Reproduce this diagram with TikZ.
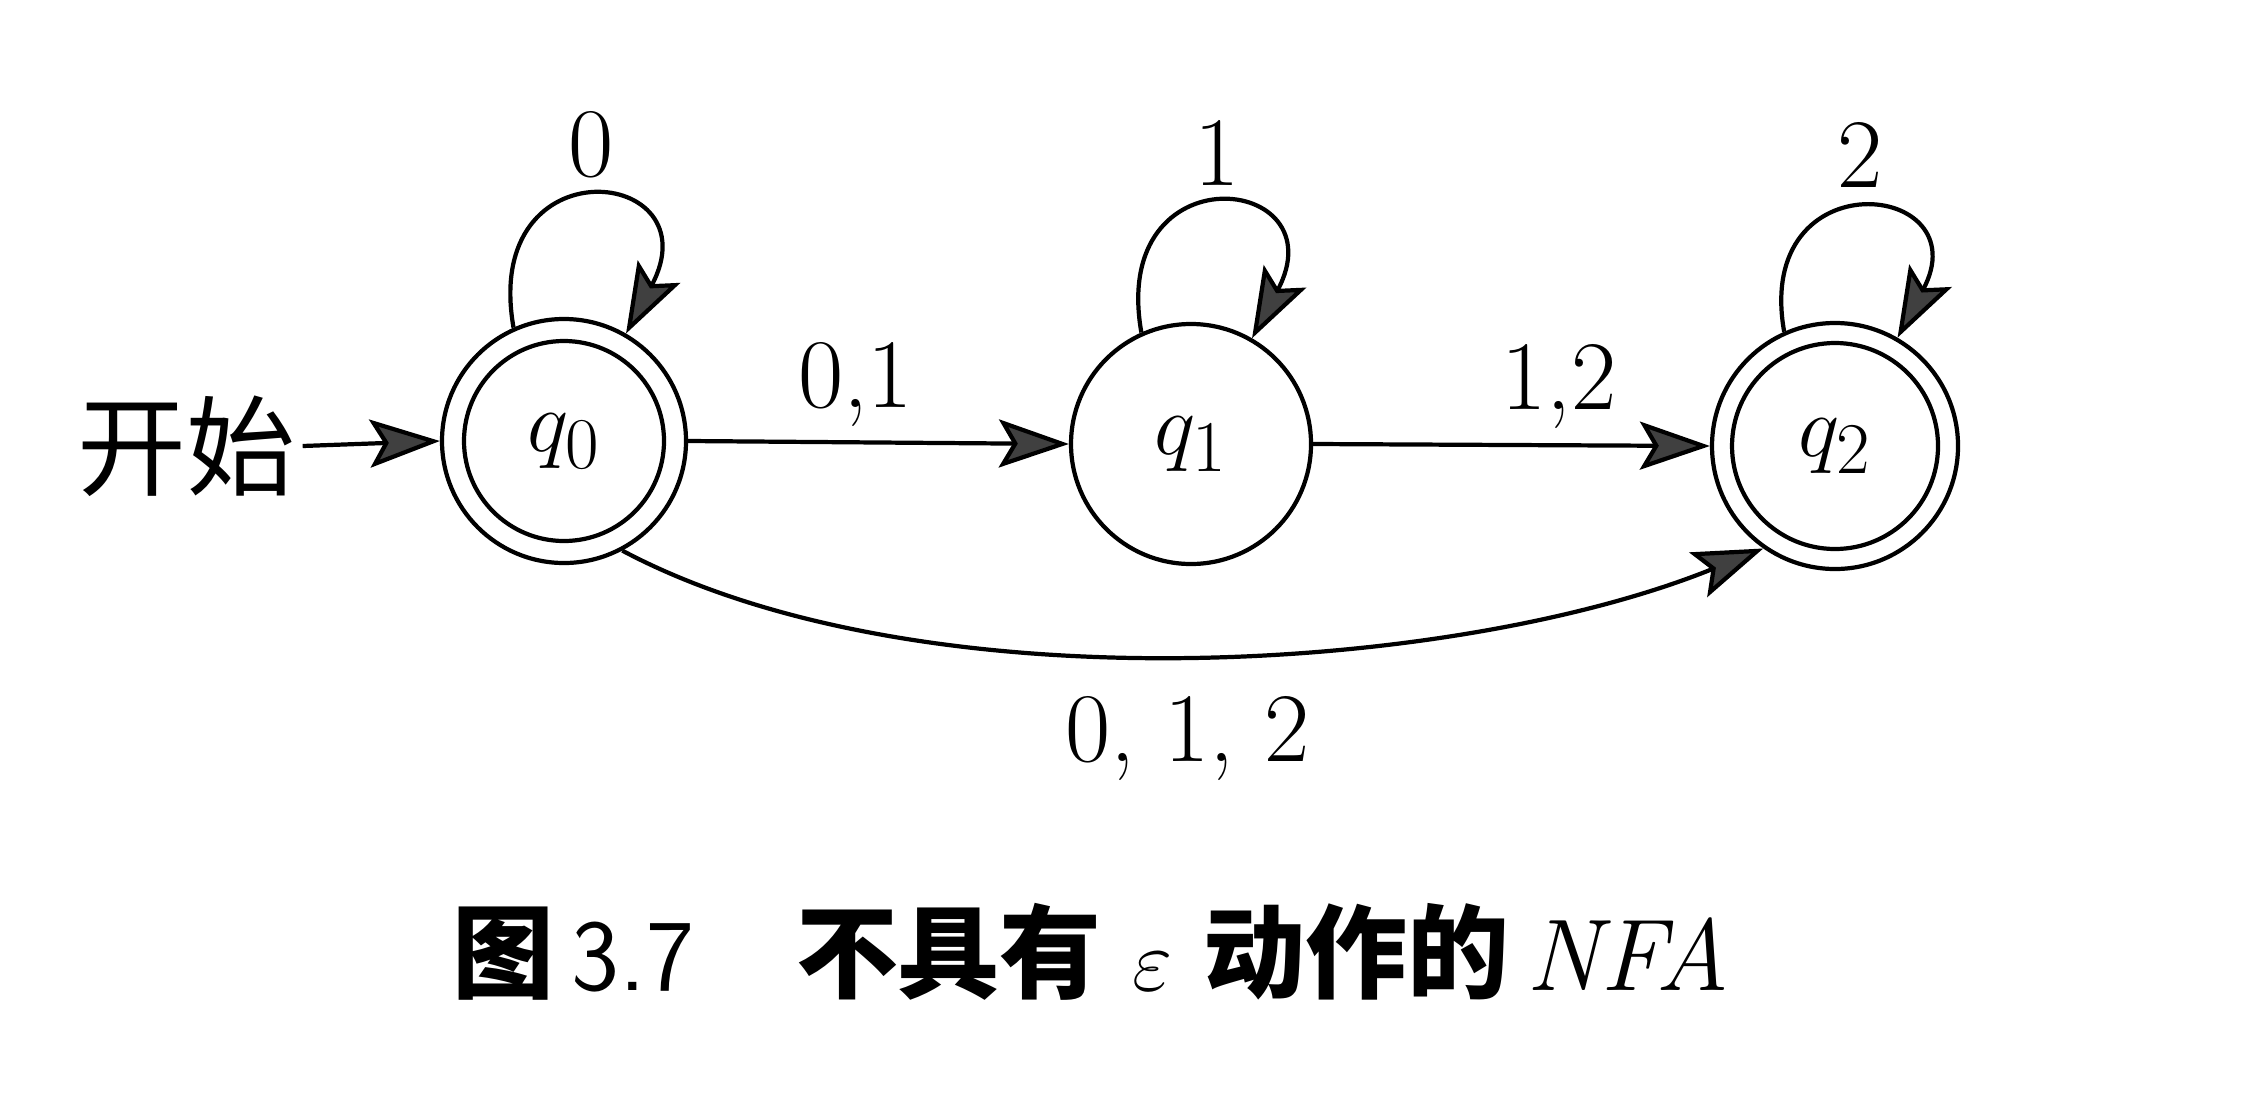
\documentclass[tikz,border=0pt]{standalone}
\usepackage{fontspec}
\newfontfamily\cjk{Noto Sans CJK SC}
\usetikzlibrary{arrows.meta}
\begin{document}
\begin{tikzpicture}[x=1cm,y=1cm,
  state/.style={circle,draw,line width=1.2pt,inner sep=0pt},
  arr/.style={-{Stealth[length=7mm,width=4.8mm,inset=1.4mm,fill=black!75]}, line width=1.2pt},
  lbl/.style={font=\fontsize{28}{30}\selectfont, inner sep=1pt},
  qlbl/.style={font=\fontsize{32}{34}\selectfont}
]
\useasboundingbox (0,0) rectangle (22.44,11.16);
\node[state,minimum size=2.44cm] (q0) at (5.64,6.75) {};
\node[qlbl] at (q0) {$q_0$};
\draw[line width=1.2pt] (q0.center) circle (1.0cm);
\node[state,minimum size=2.40cm] (q1) at (11.91,6.72) {};
\node[qlbl] at (q1) {$q_1$};
\node[state,minimum size=2.46cm] (q2) at (18.35,6.70) {};
\node[qlbl] at (q2) {$q_2$};
\draw[line width=1.2pt] (q2.center) circle (1.03cm);

\node[font=\cjk\fontsize{31}{32}\selectfont, inner sep=2pt] (start) at (1.86,6.70) {开始};
\draw[arr] (start.east) -- (q0.west);

\draw[arr] (q0.114) to[out=100,in=62,looseness=4.3] node[lbl,above=4pt] {0} (q0.60);
\draw[arr] (q1.114) to[out=100,in=62,looseness=4.3] node[lbl,above=4pt] {1} (q1.60);
\draw[arr] (q2.114) to[out=100,in=62,looseness=4.0] node[lbl,above=5pt] {2} (q2.60);

\draw[arr] (q0.east) -- node[lbl,pos=0.44,above=3pt] {0,1} (q1.west);
\draw[arr] (q1.east) -- node[lbl,pos=0.62,above=3pt] {1,2} (q2.west);
\draw[arr] (q0.-62) to[out=-28,in=202,looseness=0.75] node[lbl,pos=0.5,below=10pt] {0, 1, 2} (q2.235);

\node[font=\fontsize{29}{31}\selectfont] (cap) at (10.91,1.64)
  {{\cjk\bfseries 图}\,{\sffamily 3.7}\quad{\cjk\bfseries 不具有}\ {\fontsize{34}{36}\selectfont$\varepsilon$}\ {\cjk\bfseries 动作的}\,\textit{NFA}};
\end{tikzpicture}
\end{document}
